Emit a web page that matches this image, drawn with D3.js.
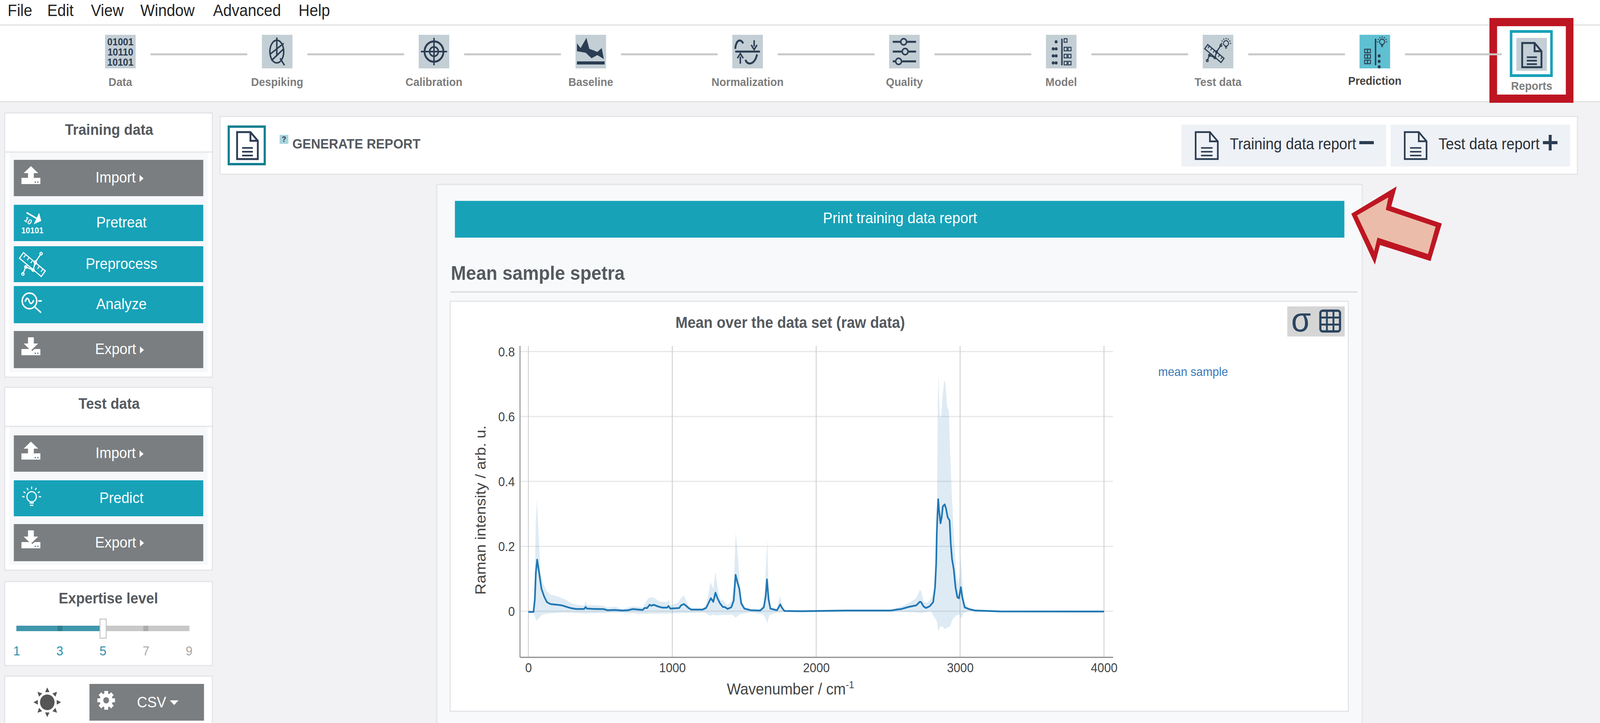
<!DOCTYPE html>
<html>
<head>
<meta charset="utf-8">
<title>Mean over the data set</title>
<script src="https://cdn.jsdelivr.net/npm/d3@7"></script>
<style>
  html, body { margin: 0; padding: 0; background: #f2f2f5; overflow: hidden; }
  svg { display: block; }
  text { font-family: "Liberation Sans", Arial, sans-serif; }
</style>
</head>
<body>
<div id="page"></div>
<script>
// mean spectrum
var meanWn = [0,36,45,52,61,71,91,110,129,155,200,233,291,330,388,398,407,459,524,550,601,653,692,724,795,808,825,843,854,871,899,931,964,973,987,1048,1061,1080,1093,1113,1132,1210,1235,1255,1268,1285,1300,1313,1332,1352,1365,1384,1410,1427,1440,1453,1466,1479,1501,1546,1611,1636,1649,1658,1669,1682,1727,1740,1750,1763,1779,1893,2200,2518,2560,2594,2645,2695,2720,2729,2746,2763,2788,2813,2826,2834,2838,2843,2848,2853,2864,2872,2880,2893,2902,2914,2927,2935,2944,2956,2968,2981,2992,3005,3015,3032,3066,3108,3276,4000];
var meanVal = [-.002,-.002,.037,.118,.159,.13,.069,.045,.028,.022,.02,.018,.01,.007,.007,.013,.008,.007,.0065,.003,.004,.002,.003,.0065,.004,.01,.01,.02,.017,.02,.015,.011,.011,.016,.008,.01,.018,.022,.018,.01,.005,.005,.01,.028,.04,.029,.057,.041,.024,.013,.013,.007,.012,.033,.112,.089,.069,.024,.008,.003,.002,.012,.045,.098,.037,.008,.003,.012,.021,.01,.001,0,.002,.002,.005,.007,.0135,.018,.029,.028,.015,.01,.015,.028,.074,.148,.24,.3,.345,.314,.271,.289,.323,.329,.317,.289,.28,.209,.16,.129,.074,.043,.04,.074,.043,.012,.006,.002,-.0005,-.001];

// upper edge of the shaded band
var upperWn = [0,36,45,52,60,71,84,103,129,155,207,252,304,349,388,398,407,524,550,601,653,724,795,808,834,867,912,964,973,987,1041,1061,1080,1093,1113,1138,1210,1235,1251,1265,1285,1300,1313,1332,1358,1384,1410,1427,1441,1458,1475,1501,1546,1611,1636,1649,1660,1669,1682,1727,1740,1749,1763,1779,1893,2200,2518,2569,2602,2645,2695,2720,2729,2746,2767,2796,2821,2838,2841,2845,2849,2859,2868,2876,2889,2897,2910,2922,2931,2944,2956,2973,2986,2998,3005,3015,3032,3066,3108,3276,4000];
var upperVal = [-.002,0,.12,.28,.342,.24,.118,.085,.061,.051,.0455,.037,.024,.019,.018,.03,.0195,.017,.011,.014,.007,.015,.012,.022,.041,.043,.03,.028,.035,.018,.026,.041,.049,.037,.016,.008,.007,.022,.053,.09,.069,.122,.077,.037,.032,.018,.03,.077,.242,.159,.045,.014,.005,.005,.024,.118,.22,.069,.012,.006,.033,.047,.018,.002,.001,.003,.003,.012,.017,.026,.04,.066,.062,.031,.025,.037,.062,.15,.39,.64,.735,.597,.597,.652,.711,.705,.63,.618,.486,.345,.24,.117,.086,.11,.17,.092,.025,.009,.003,.001,.001];

// lower edge of the shaded band
var lowerWn = [0,36,45,58,71,97,149,252,394,600,808,977,1222,1268,1285,1306,1417,1440,1468,1546,1636,1660,1675,1727,1749,1790,2200,2518,2687,2729,2796,2826,2838,2849,2859,2876,2893,2931,2948,2977,2998,3007,3024,3058,3276,4000];
var lowerVal = [-.002,-.004,-.016,-.03,-.022,-.01,-.0065,-.004,-.007,-.004,-.008,-.007,-.004,-.014,-.01,-.013,-.01,-.02,-.01,-.003,-.01,-.037,-.012,-.003,-.004,-.002,-.001,-.001,-.003,-.006,0,-.022,-.03,-.063,-.049,-.046,-.055,-.046,-.025,-.012,-.01,-.025,-.006,0,-.001,-.002];

var xTicks = [0, 1000, 2000, 3000, 4000];
var yTicks = [0, 0.2, 0.4, 0.6, 0.8];

var menuItems = ["File", "Edit", "View", "Window", "Advanced", "Help"];
var menuX = [21, 130, 250, 386, 586, 821];
var steps = ["Data", "Despiking", "Calibration", "Baseline", "Normalization", "Quality", "Model", "Test data", "Prediction", "Reports"];
var sliderLabels = ["1", "3", "5", "7", "9"];

var TEAL = "#17a2b8", GREY = "#7a7e80", INK = "#2b3d52", HEAD = "#555a5f";

// the window may come up narrower than asked, so the drawing is fitted to it
var svg = d3.select("#page").append("svg")
  .attr("width", window.innerWidth).attr("height", window.innerHeight)
  .attr("viewBox", "0 0 4400 1850").attr("preserveAspectRatio", "none");

function box(p, x, y, w, h, fill, stroke, sw) {
  return p.append("rect").attr("x", x).attr("y", y).attr("width", w).attr("height", h)
    .attr("fill", fill).attr("stroke", stroke || "none").attr("stroke-width", sw || 0);
}
function label(p, x, y, s, size, fill, weight, anchor) {
  return p.append("text").attr("x", x).attr("y", y).text(s)
    .attr("font-size", size).attr("fill", fill)
    .attr("font-weight", weight || "normal").attr("text-anchor", anchor || "start");
}
function shape(p, d, fill, stroke, sw) {
  return p.append("path").attr("d", d).attr("fill", fill || "none")
    .attr("stroke", stroke || "none").attr("stroke-width", sw || 0);
}
function at(p, x, y) { return p.append("g").attr("transform", "translate(" + x + "," + y + ")"); }

// page frame
box(svg, 0, 0, 4400, 1850, "#f2f2f5");
box(svg, 0, 0, 4400, 63, "#ffffff");
box(svg, -3, 64, 4406, 196, "#ffffff", "#e0e0e0", 3);
menuItems.forEach(function(m, i) { label(svg, menuX[i], 41, m, 42, "#222"); });

// workflow strip
var stepX = d3.scalePoint().domain(steps).range([331, 4212]);

function docIcon(p, x, y, w, h, color, sw) {
  var g = at(p, x, y);
  var f = w * 0.36;
  shape(g, "M3,3 H" + (w - f) + " L" + (w - 2) + "," + (f + 3) + " V" + (h - 3) + " H3 Z", "none", color, sw);
  shape(g, "M" + (w - f) + ",3 V" + (f + 3) + " H" + (w - 2), "none", color, sw);
  [0.58, 0.71, 0.84].forEach(function(t) {
    shape(g, "M" + (w * 0.27) + "," + (h * t) + " H" + (w * 0.75), "none", color, sw * 0.85);
  });
}

function bulb(g, cx, cy, r, color, sw) {
  g.append("circle").attr("cx", cx).attr("cy", cy).attr("r", r).attr("fill", "none").attr("stroke", color).attr("stroke-width", sw);
  shape(g, "M" + (cx - r * 0.45) + "," + (cy + r * 1.25) + " H" + (cx + r * 0.45) + " M" + (cx - r * 0.35) + "," + (cy + r * 1.7) + " H" + (cx + r * 0.35), "none", color, sw);
  d3.range(7).forEach(function(i) {
    var a = Math.PI + i * Math.PI / 6;
    shape(g, "M" + (cx + Math.cos(a) * r * 1.5) + "," + (cy + Math.sin(a) * r * 1.5) + " L" + (cx + Math.cos(a) * r * 2) + "," + (cy + Math.sin(a) * r * 2), "none", color, sw);
  });
}

function rulerCross(g, s, color) {
  var r = g.append("g").attr("transform", "rotate(38)");
  r.append("rect").attr("x", -38 * s).attr("y", -9 * s).attr("width", 76 * s).attr("height", 18 * s)
    .attr("fill", "none").attr("stroke", color).attr("stroke-width", 3);
  d3.range(6).forEach(function(i) {
    shape(r, "M" + ((-30 + i * 12) * s) + "," + (-9 * s) + " v" + (9 * s), "none", color, 2.5);
  });
  var pts = [[-26, 24], [-18, 6], [2, 14], [8, -6], [24, -28]];
  shape(g, d3.line()(pts.map(function(p) { return [p[0] * s, p[1] * s]; })), "none", color, 3);
  pts.forEach(function(p) {
    g.append("circle").attr("cx", p[0] * s).attr("cy", p[1] * s).attr("r", 3.5 * s).attr("fill", "none").attr("stroke", color).attr("stroke-width", 2.5);
  });
}

var stepIcons = {
  "Data": function(g) {
    ["01001", "10110", "10101"].forEach(function(t, i) {
      label(g, 42, 27 + i * 26, t, 26, INK, "bold", "middle").attr("font-family", "Liberation Mono");
    });
  },
  "Despiking": function(g) {
    g.append("ellipse").attr("cx", 41).attr("cy", 43).attr("rx", 19).attr("ry", 29).attr("fill", "none").attr("stroke", INK).attr("stroke-width", 4);
    shape(g, "M41,7 V55 M22,50 L41,36 L60,22 M26,66 L60,36 M50,60 L62,78", "none", INK, 4);
  },
  "Calibration": function(g) {
    g.append("circle").attr("cx", 42).attr("cy", 43).attr("r", 26).attr("fill", "none").attr("stroke", INK).attr("stroke-width", 5);
    g.append("circle").attr("cx", 42).attr("cy", 43).attr("r", 12).attr("fill", "none").attr("stroke", INK).attr("stroke-width", 4);
    shape(g, "M42,8 V78 M6,43 H78", "none", INK, 4);
  },
  "Baseline": function(g) {
    shape(g, "M4,22 L14,34 L30,8 L38,36 L50,40 L60,44 L72,34 L78,62 L60,52 L44,60 L28,46 L4,42 Z", INK);
    box(g, 4, 68, 76, 8, INK);
  },
  "Normalization": function(g) {
    shape(g, "M8,36 C10,14 22,8 30,22 M36,64 C42,80 62,76 68,50 M8,43 H76", "none", INK, 5);
    shape(g, "M60,14 V30 M52,26 L60,38 L68,26 M22,74 V56 M14,60 L22,48 L30,60", "none", INK, 4);
  },
  "Quality": function(g) {
    [[18, 40], [43, 44], [68, 26]].forEach(function(r) {
      shape(g, "M10," + r[0] + " H74", "none", INK, 5);
      g.append("circle").attr("cx", r[1]).attr("cy", r[0]).attr("r", 8).attr("fill", "#c3ced5").attr("stroke", INK).attr("stroke-width", 4);
    });
  },
  "Model": function(g) { modelDots(g, INK, false); },
  "Test data": function(g) {
    rulerCross(at(g, 32, 48), 0.75, INK);
    bulb(g, 64, 22, 7, INK, 2.5);
  },
  "Prediction": function(g) {
    modelDots(g, INK, true);
    bulb(g, 62, 18, 7, INK, 2.5);
  },
  "Reports": function(g) { docIcon(g, 13, 10, 58, 68, INK, 5); }
};

function modelDots(g, color, flip) {
  shape(g, "M44,10 V78", "none", color, 4);
  d3.range(3).forEach(function(row) {
    var y = flip ? 42 + row * 14 : 26 + row * 18;
    [24, 32].forEach(function(x) {
      if (flip) box(g, 14 + (x - 24), y - 5, 8, 9, "none", color, 2.5);
      else g.append("circle").attr("cx", x - 4).attr("cy", y + 10).attr("r", 4).attr("fill", color);
    });
    if (!flip) {
      box(g, 50, y + 6, 8, 9, "none", color, 2.5);
      box(g, 61, y + 6, 8, 9, "none", color, 2.5);
    } else {
      g.append("circle").attr("cx", 54).attr("cy", y + 12).attr("r", 4).attr("fill", color);
    }
  });
  if (!flip) {
    g.append("circle").attr("cx", 28).attr("cy", 18).attr("r", 4).attr("fill", color);
    box(g, 50, 10, 8, 9, "none", color, 2.5);
  }
}

// highlight round the last step
box(svg, 4106.5, 56.5, 210, 196, "#ffffff", "#bd1622", 21);

steps.forEach(function(s, i) {
  var cx = stepX(s);
  var last = s === "Reports";
  if (!last) {
    box(svg, cx + 83, 136.5, 266, 5, "#c8c8c8");
  }
  var top = last ? 97 : 89;
  var g = at(svg, cx - 42, top);
  box(g, 0, 0, 84, last ? 84 : 86, s === "Prediction" ? "#5fc0d2" : "#c3ced5");
  stepIcons[s](g);
  label(svg, cx, last ? 230 : (s === "Prediction" ? 217 : 220), s, 30, s === "Prediction" ? "#444" : "#7d7d7d", "bold", "middle");
});
box(svg, 4155.5, 80.5, 111, 113, "none", TEAL, 7);

// side panels
function panel(x, y, w, h, fill) { return box(svg, x, y, w, h, fill || "#ffffff", "#e3e4e7", 3); }

function uploadIcon(g, up) {
  shape(g, "M0,30 H24 L30,35 L36,30 H52 V46 H0 Z", "#ffffff");
  shape(g, up ? "M26,0 L46,18 H34 V34 H18 V18 H6 Z" : "M18,0 H34 V16 H46 L26,34 L6,16 H18 Z", "#ffffff");
  g.append("circle").attr("cx", 38).attr("cy", 41).attr("r", 2).attr("fill", GREY);
  g.append("circle").attr("cx", 45).attr("cy", 41).attr("r", 2).attr("fill", GREY);
}
function pretreatIcon(g) {
  shape(g, "M14,4 L44,20 M48,10 L52,24 L38,30 Z", "#ffffff", "#ffffff", 4);
  g.append("text").attr("x", 6).attr("y", 24).attr("transform", "rotate(35 6 24)").text("10").attr("font-size", 19).attr("font-weight", "bold").attr("fill", "#ffffff");
  label(g, 30, 57, "10101", 22, "#ffffff", "bold", "middle");
}
function preprocessIcon(g) { rulerCross(at(g, 30, 31), 1, "#ffffff"); }
function analyzeIcon(g) {
  g.append("circle").attr("cx", 22).attr("cy", 22).attr("r", 20).attr("fill", "none").attr("stroke", "#ffffff").attr("stroke-width", 4);
  shape(g, "M10,24 Q16,8 21,22 T34,20 M36,37 L54,52 M46,22 H56", "none", "#ffffff", 4);
}
function predictIcon(g) { bulb(g, 28, 26, 13, "#ffffff", 3); }

function button(x0, x1, y0, y1, s, fill, icon, arrow) {
  box(svg, x0, y0, x1 - x0, y1 - y0, fill);
  var t = label(svg, arrow ? 318 : 334, (y0 + y1) / 2 + 12, s, 39, "#ffffff", "normal", "middle");
  if (arrow) {
    var r = t.node().getBBox();
    var ax = r.x + r.width + 10, ay = (y0 + y1) / 2 + 1;
    shape(svg, "M" + ax + "," + (ay - 9) + " L" + (ax + 11) + "," + ay + " L" + ax + "," + (ay + 9) + " Z", "#ffffff");
  }
  icon(at(svg, x0 + 21, y0 + 16));
}

panel(13, 289, 571, 676);
box(svg, 26, 390, 545, 562, "#f7f8fa");
shape(svg, "M13,389 H584", "none", "#e3e4e7", 3);
label(svg, 300, 345, "Training data", 39, HEAD, "bold", "middle");
button(38, 559, 409, 502, "Import", GREY, function(g) { uploadIcon(g, true); }, true);
button(38, 559, 524, 617, "Pretreat", TEAL, pretreatIcon);
button(38, 559, 630, 722, "Preprocess", TEAL, preprocessIcon);
button(38, 559, 732, 827, "Analyze", TEAL, analyzeIcon);
button(38, 559, 847, 942, "Export", GREY, function(g) { uploadIcon(g, false); }, true);

panel(13, 991, 571, 468);
box(svg, 26, 1092, 545, 353, "#f7f8fa");
shape(svg, "M13,1091 H584", "none", "#e3e4e7", 3);
label(svg, 300, 1046, "Test data", 39, HEAD, "bold", "middle");
button(38, 559, 1114, 1207, "Import", GREY, function(g) { uploadIcon(g, true); }, true);
button(38, 559, 1229, 1321, "Predict", TEAL, predictIcon);
button(38, 559, 1341, 1436, "Export", GREY, function(g) { uploadIcon(g, false); }, true);

// expertise slider
panel(13, 1488, 571, 215);
label(svg, 298, 1544, "Expertise level", 39, HEAD, "bold", "middle");
box(svg, 45, 1601, 476, 14, "#c8c8c8");
box(svg, 45, 1601, 230, 14, "#3f97ab");
box(svg, 158, 1601, 14, 14, "#2f7f92");
box(svg, 394, 1601, 14, 14, "#acacac");
box(svg, 275, 1584, 17, 49, "#ffffff", "#c4c4c4", 2.5);
var sliderX = d3.scalePoint().domain(sliderLabels).range([46, 520]);
sliderLabels.forEach(function(s, i) {
  label(svg, sliderX(s), 1677, s, 34, i < 3 ? "#2a8fb0" : "#a9a9a9", "normal", "middle");
});

// theme + format panel
panel(13, 1730, 571, 140);
var sun = at(svg, 130, 1797);
sun.append("circle").attr("r", 20).attr("fill", "#555");
d3.range(8).forEach(function(i) {
  sun.append("path").attr("d", "M-6,-26 L6,-26 L0,-38 Z").attr("fill", "#555").attr("transform", "rotate(" + (i * 45) + ")");
});
box(svg, 246, 1750, 315, 94, GREY);
var gear = at(svg, 292, 1792);
d3.range(8).forEach(function(i) {
  gear.append("rect").attr("x", -5).attr("y", -24).attr("width", 10).attr("height", 48).attr("fill", "#ffffff").attr("transform", "rotate(" + (i * 45) + ")");
});
gear.append("circle").attr("r", 18).attr("fill", "#ffffff");
gear.append("circle").attr("r", 8).attr("fill", GREY);
label(svg, 417, 1810, "CSV", 39, "#ffffff", "normal", "middle");
shape(svg, "M467,1792 H491 L479,1804 Z", "#ffffff");

// report header
box(svg, 605, 298, 3733, 148, "#ffffff", "#e3e4e7", 3);
box(svg, 629, 324, 99, 96, "#ffffff", "#0f7f90", 6);
docIcon(svg, 649, 335, 62, 75, INK, 5);
box(svg, 769, 345, 24, 23, "#a8d5de");
label(svg, 781, 363, "?", 20, INK, "bold", "middle");
label(svg, 804, 380, "GENERATE REPORT", 35.5, HEAD, "bold");
box(svg, 3249, 319, 563, 107, "#eef1f6");
box(svg, 3824, 319, 494, 107, "#eef1f6");
docIcon(svg, 3285, 335, 66, 75, INK, 4.5);
docIcon(svg, 3860, 335, 65, 75, INK, 4.5);
label(svg, 3382, 382, "Training data report", 40, "#2a2f36");
label(svg, 3956, 382, "Test data report", 40, "#2a2f36");
box(svg, 3738, 361, 40, 8, INK);
box(svg, 4243, 361, 40, 8, INK);
box(svg, 4259, 345, 8, 40, INK);

// report body
box(svg, 1201, 472, 2545, 1400, "#f8f9fb", "#e3e4e7", 3);
box(svg, 1251, 514, 2446, 94, TEAL);
label(svg, 2475, 571, "Print training data report", 39.5, "#ffffff", "normal", "middle");
label(svg, 1240, 716, "Mean sample spetra", 50, HEAD, "bold");
box(svg, 1238, 745, 2495, 4, "#dfe0e3");

// call-out arrow
shape(svg, "M3841,477 L3716,547 L3781,677 L3795,627 L3934,668 L3965,572 L3826,528 Z", "#bd1622");
shape(svg, "M3818,505 L3732,551 L3779,643 L3788,608 L3927,650 L3948,580 L3811,537 Z", "#ecbcaa");

// chart card
box(svg, 1238, 771, 2470, 1049, "#ffffff", "#e3e4e7", 3);
box(svg, 3540, 784, 158, 77, "#d5d5d5");
label(svg, 3578, 848, "\u03c3", 88, "#2a4560", "normal", "middle").attr("font-family", "Liberation Serif");
var gridIcon = at(svg, 3628, 792);
box(gridIcon, 3, 3, 54, 53, "none", "#2a4560", 6).attr("rx", 6);
shape(gridIcon, "M21,3 V56 M39,3 V56 M3,20.5 H57 M3,38.5 H57", "none", "#2a4560", 5);

label(svg, 2173, 839, "Mean over the data set (raw data)", 40, HEAD, "bold", "middle");

// the spectrum
var plotLeft = 1430, plotRight = 3061, plotTop = 885, plotBottom = 1682;
var x = d3.scaleLinear().domain([0, 4000]).range([1453, 3036]);
var y = d3.scaleLinear().domain([0, 0.8]).range([1564, 899.5]);

var plot = svg.append("g");

// horizontal grid sits under everything
plot.selectAll(".hgrid").data(yTicks).enter().append("line")
  .attr("x1", plotLeft).attr("x2", plotRight)
  .attr("y1", function(d) { return y(d); }).attr("y2", function(d) { return y(d); })
  .attr("stroke", "#e6e7e9").attr("stroke-width", 3);
plot.selectAll(".vgrid").data(xTicks).enter().append("line")
  .attr("y1", plotTop).attr("y2", plotBottom)
  .attr("x1", function(d) { return x(d); }).attr("x2", function(d) { return x(d); })
  .attr("stroke", "#c6c8ca").attr("stroke-width", 2);

var line = d3.line().x(function(d) { return x(d[0]); }).y(function(d) { return y(d[1]); });

var bandPoints = d3.zip(upperWn, upperVal).concat(d3.zip(lowerWn, lowerVal).reverse());
plot.append("path").attr("d", line(bandPoints) + "Z")
  .attr("fill", "#1f77b4").attr("fill-opacity", 0.15);

plot.append("path").attr("d", line(d3.zip(meanWn, meanVal)))
  .attr("fill", "none").attr("stroke", "#1f77b4").attr("stroke-width", 4.5).attr("stroke-linejoin", "round");

var xAxis = d3.axisBottom(x).tickValues(xTicks).tickSize(0).tickPadding(0).tickFormat(d3.format("d"));
var yAxis = d3.axisLeft(y).tickValues(yTicks).tickSize(0).tickPadding(14)
  .tickFormat(function(d) { return d === 0 ? "0" : d3.format(".1f")(d); });

var gx = svg.append("g").attr("transform", "translate(0," + plotBottom + ")").call(xAxis);
gx.select(".domain").remove();
gx.selectAll("text").attr("y", 38).attr("dy", 0).attr("font-size", 33).attr("fill", "#444")
  .style("font-family", "'Liberation Sans', Arial, sans-serif");

var gy = svg.append("g").attr("transform", "translate(" + plotLeft + ",0)").call(yAxis);
gy.select(".domain").remove();
gy.selectAll("text").attr("font-size", 33).attr("fill", "#444").attr("dy", "0.36em")
  .style("font-family", "'Liberation Sans', Arial, sans-serif");

shape(svg, "M" + plotLeft + "," + plotTop + " V" + plotBottom, "none", "#8c8c8c", 2.5);
shape(svg, "M" + plotLeft + "," + plotBottom + " H" + plotRight, "none", "#8c8c8c", 3);

var xTitle = label(svg, 2174, 1777, "Wavenumber / cm", 40.5, "#444", "normal", "middle");
xTitle.append("tspan").attr("dy", -16).attr("font-size", 26).text("-1");

label(svg, 0, 0, "Raman intensity / arb. u.", 40, "#444", "normal", "middle")
  .attr("transform", "translate(1335,1305) rotate(-90)");

label(svg, 3185, 962, "mean sample", 32, "#3a7ab8");
</script>
</body>
</html>
